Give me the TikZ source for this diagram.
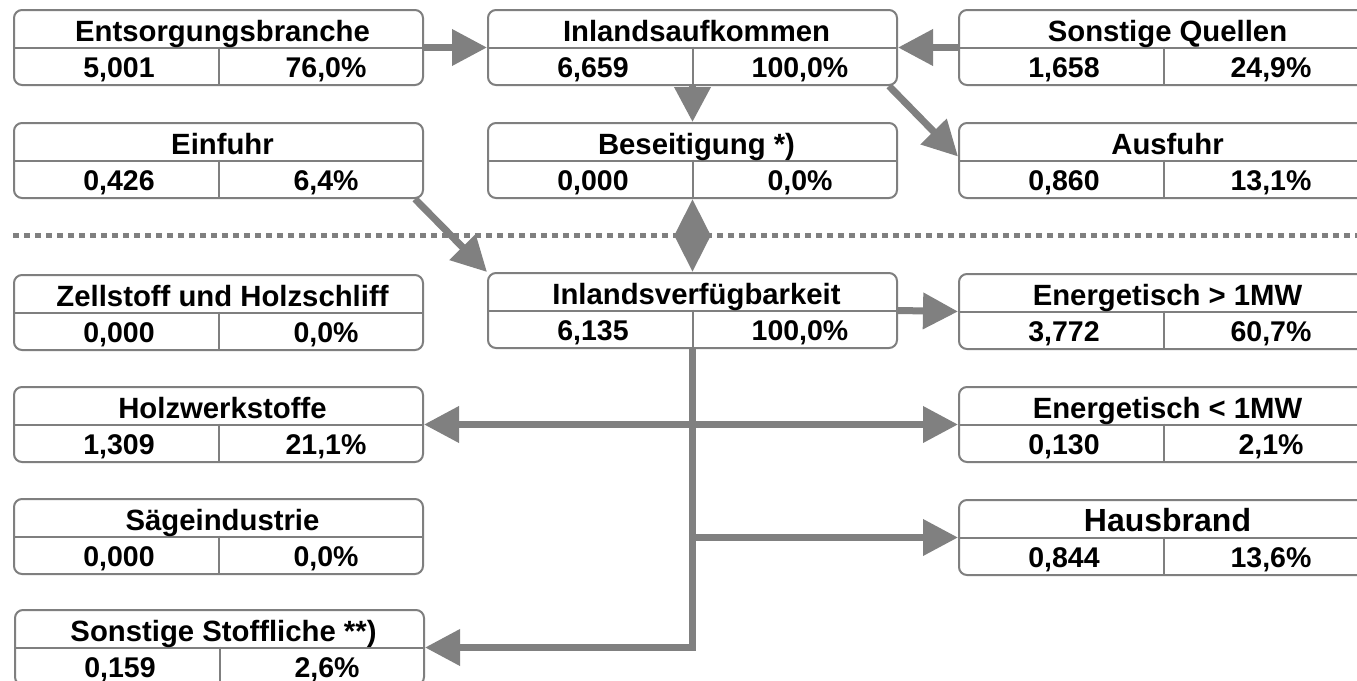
\documentclass[tikz,border=0pt]{standalone}
\usepackage{fontspec}
\setmainfont{Liberation Sans}
\usetikzlibrary{arrows.meta,calc}
\definecolor{lineg}{HTML}{808080}
\definecolor{boxg}{HTML}{7F7F7F}
\tikzset{
  fbx/.style={draw=boxg, line width=2pt, rounded corners=8pt, fill=white,
    minimum width=409pt, minimum height=75pt, inner sep=0pt, anchor=north west},
  fln/.style={draw=boxg, line width=2pt},
  ttl/.style={inner sep=0pt, anchor=base},
  val/.style={font=\fontsize{28.5}{28.5}\selectfont\bfseries, inner sep=0pt, anchor=base},
  arr/.style={draw=lineg, line width=7pt, -{Triangle[length=35pt,width=35pt]}},
  arrtwo/.style={draw=lineg, line width=7pt, {Triangle[length=35pt,width=35pt]}-{Triangle[length=35pt,width=35pt]}},
  arrdia/.style={draw=lineg, line width=7pt, {Triangle[length=37pt,width=35pt]}-{Triangle[length=37pt,width=35pt]}},
  dotline/.style={draw=lineg, line width=5pt, dash pattern=on 6pt off 5pt}
}
% #1 title font size, #2 name, #3 left x, #4 top y, #5 title, #6 value, #7 percent
\newcommand{\flowbox}[7][29.3]{%
  \node[fbx] (#2) at (#3,#4) {};
  \draw[fln] (#2.west) -- (#2.east);
  \draw[fln] ($(#2.north west)+(206,37.5)$) -- ($(#2.north west)+(206,75)$);
  \node[ttl, font=\fontsize{#1}{#1}\selectfont\bfseries] (#2-t) at ($(#2.north west)+(209.5,32)$) {#5};
  \node[val] (#2-v) at ($(#2.north west)+(106,68)$) {#6};
  \node[val] (#2-p) at ($(#2.north west)+(313,68)$) {#7};
}
\begin{document}
\begin{tikzpicture}[x=1pt,y=-1pt]
\useasboundingbox (0,0) rectangle (1357,680);
\fill[white] (0,0) rectangle (1357,680);

% dotted separator
\coordinate (dl) at (13,235);
\coordinate (dr) at (1357,235);
\draw[dotline] (dl) -- (dr);

% boxes
\flowbox{ent}{13}{9}{Entsorgungsbranche}{5,001}{76,0\%}
\flowbox{inl}{487}{9}{Inlandsaufkommen}{6,659}{100,0\%}
\flowbox{sq}{958}{9}{Sonstige Quellen}{1,658}{24,9\%}
\flowbox{ein}{13}{122}{Einfuhr}{0,426}{6,4\%}
\flowbox{bes}{487}{122}{Beseitigung *)}{0,000}{0,0\%}
\flowbox{aus}{958}{122}{Ausfuhr}{0,860}{13,1\%}
\flowbox{zell}{13}{274}{Zellstoff und Holzschliff}{0,000}{0,0\%}
\flowbox{iv}{487}{272}{Inlandsverfügbarkeit}{6,135}{100,0\%}
\flowbox{enA}{958}{273}{Energetisch > 1MW}{3,772}{60,7\%}
\flowbox{holz}{13}{386}{Holzwerkstoffe}{1,309}{21,1\%}
\flowbox{enB}{958}{386}{Energetisch < 1MW}{0,130}{2,1\%}
\flowbox{saeg}{13}{498}{Sägeindustrie}{0,000}{0,0\%}
\flowbox[32]{haus}{958}{499}{Hausbrand}{0,844}{13,6\%}
\flowbox{sst}{14}{609}{Sonstige Stoffliche **)}{0,159}{2,6\%}

% connectors
\draw[arr] (ent.east) -- (inl.west);
\draw[arr] (sq.west) -- (inl.east);
\draw[arr] (inl.south) -- (bes.north);
\draw[arr] ([xshift=-9pt]inl.south east) -- ([yshift=4pt]aus.west);
\draw[arr] ([xshift=-9pt]ein.south east) -- (iv.north west);
\draw[arrdia] (bes.south) -- (iv.north);
\draw[arr] (iv.east) -- (enA.west);
\draw[arr, line join=miter] (iv.south) |- (sst.east);
\draw[arrtwo] (holz.east) -- (enB.west);
\draw[arr] (iv.south |- haus.west) -- (haus.west);
\end{tikzpicture}
\end{document}
